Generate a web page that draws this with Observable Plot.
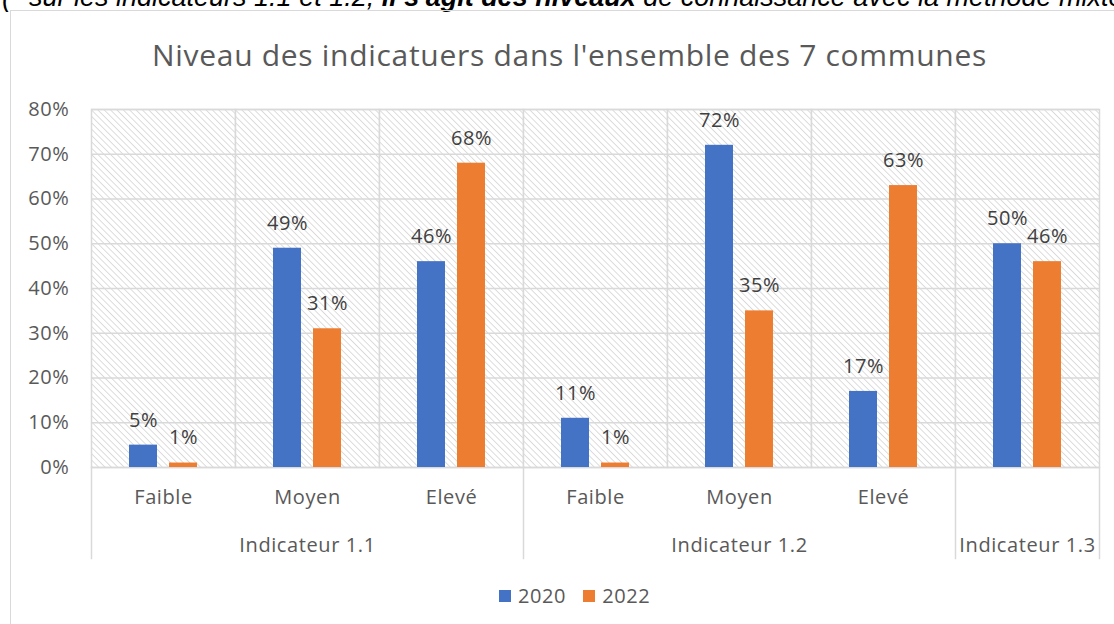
<!DOCTYPE html>
<html>
<head>
<meta charset="utf-8">
<script src="https://cdn.jsdelivr.net/npm/d3@7"></script>
<script src="https://cdn.jsdelivr.net/npm/@observablehq/plot@0.6"></script>
<style>
  html, body { margin: 0; padding: 0; background: #fff; }
  #page { position: relative; width: 1114px; height: 624px; overflow: hidden; font-family: "Open Sans", sans-serif; }
  #note { position: absolute; left: 2px; top: -18px; white-space: nowrap; font-family: "Liberation Sans", Arial, sans-serif; font-style: italic; font-size: 27px; line-height: 30px; color: #000; }
  #box { position: absolute; left: 10px; top: 10px; width: 1200px; height: 700px; border: 1.5px solid #d9d9d9; box-sizing: border-box; }
  #title { position: absolute; left: 0; top: 34px; width: 1139px; text-align: center; font-size: 30px; letter-spacing: 0.7px; color: #595959; line-height: 42px; }
  #chart { position: absolute; left: 0; top: 0; }
  #legend { position: absolute; left: 499px; top: 584px; display: flex; align-items: center; font-size: 20px; letter-spacing: 0.6px; color: #595959; line-height: 24px; }
  #legend .sw { width: 12px; height: 12px; display: inline-block; margin-right: 7px; }
  #legend .item { display: flex; align-items: center; margin-right: 17px; }
</style>
</head>
<body>
<div id="page">
  <div id="note">(* sur les indicateurs 1.1 et 1.2, <b>il s'agit des niveaux</b> de connaissance avec la méthode mixte</div>
  <div id="box"></div>
  <div id="chart"></div>
  <div id="title">Niveau des indicatuers dans l'ensemble des 7 communes</div>
  <div id="legend"></div>
</div>
<script>
const groups = ["Indicateur 1.1","Indicateur 1.1","Indicateur 1.1","Indicateur 1.2","Indicateur 1.2","Indicateur 1.2","Indicateur 1.3"];
const levels = ["Faible","Moyen","Elevé","Faible","Moyen","Elevé",""];
const years = ["2020","2022"];
const values2020 = [5, 49, 46, 11, 72, 17, 50];
const values2022 = [1, 31, 68, 1, 35, 63, 46];
const yTicks = [0, 10, 20, 30, 40, 50, 60, 70, 80];
const colors = ["#4472c4", "#ed7d31"];

const keys = groups.map((g, i) => g + "|" + levels[i]);
const levelOf = new Map(keys.map((k, i) => [k, levels[i]]));
const rows = [];
keys.forEach((k, i) => {
  rows.push({key: k, year: years[0], value: values2020[i]});
  rows.push({key: k, year: years[1], value: values2022[i]});
});
const groupNames = [...new Set(groups)];
const groupLabels = groupNames.map(g => {
  const members = keys.filter((k, i) => groups[i] === g);
  return {label: g, key: members[Math.floor(members.length / 2)]};
});
const groupStarts = groupNames.map(g => keys[groups.indexOf(g)]);
const lastKey = keys[keys.length - 1];

const sepStyle = {stroke: "#d9d9d9", strokeWidth: 1.5, insetTop: 358, insetBottom: -91};

const plot = Plot.plot({
  width: 1114,
  height: 624,
  marginLeft: 91,
  marginRight: 15,
  marginTop: 109,
  marginBottom: 157,
  style: {fontFamily: "Open Sans, sans-serif", fontSize: "20px", letterSpacing: "0.6px", color: "#595959", background: "transparent", overflow: "visible"},
  fx: {domain: keys, padding: 0, axis: null},
  x: {domain: years, paddingInner: 0.3, paddingOuter: 0.95, axis: null},
  y: {domain: [0, 80], axis: null},
  color: {domain: years, range: colors},
  marks: [
    Plot.frame({fill: "url(#hatch)", stroke: "#d9d9d9", strokeWidth: 1.5}),
    Plot.ruleY(yTicks, {stroke: "#d9d9d9", strokeWidth: 1.5}),
    ...groupStarts.map(k => Plot.frame({anchor: "left", fx: [k], ...sepStyle})),
    Plot.frame({anchor: "right", fx: [lastKey], ...sepStyle}),
    Plot.barY(rows, {fx: "key", x: "year", y: "value", fill: "year"}),
    Plot.text(rows, {fx: "key", x: "year", y: "value", text: d => d.value + "%", dy: -25, lineAnchor: "middle", fill: "#404040", fontSize: 20}),
    Plot.axisY({ticks: yTicks, tickFormat: d => d + "%", tickSize: 0, tickPadding: 22, fontSize: 20, fill: "#595959", label: null}),
    Plot.axisFx({anchor: "bottom", tickSize: 0, tickPadding: 22, tickFormat: k => levelOf.get(k), fontSize: 20, fill: "#595959", label: null}),
    Plot.text(groupLabels, {fx: "key", text: "label", frameAnchor: "bottom", dy: 78, lineAnchor: "middle", fill: "#595959", fontSize: 20})
  ]
});

// hatch pattern for the plot area background
const ns = "http://www.w3.org/2000/svg";
const defs = document.createElementNS(ns, "defs");
defs.innerHTML = '<pattern id="hatch" patternUnits="userSpaceOnUse" width="4.5" height="4.5" patternTransform="rotate(-45)"><rect width="4.5" height="4.5" fill="#ffffff"/><line x1="0" y1="0" x2="0" y2="4.5" stroke="#d4d4d4" stroke-width="1.6"/></pattern>';
plot.insertBefore(defs, plot.firstChild);
document.getElementById("chart").appendChild(plot);

const legend = document.getElementById("legend");
years.forEach((y, i) => {
  const item = document.createElement("span");
  item.className = "item";
  item.innerHTML = `<span class="sw" style="background:${colors[i]}"></span>${y}`;
  legend.appendChild(item);
});
</script>
</body>
</html>
